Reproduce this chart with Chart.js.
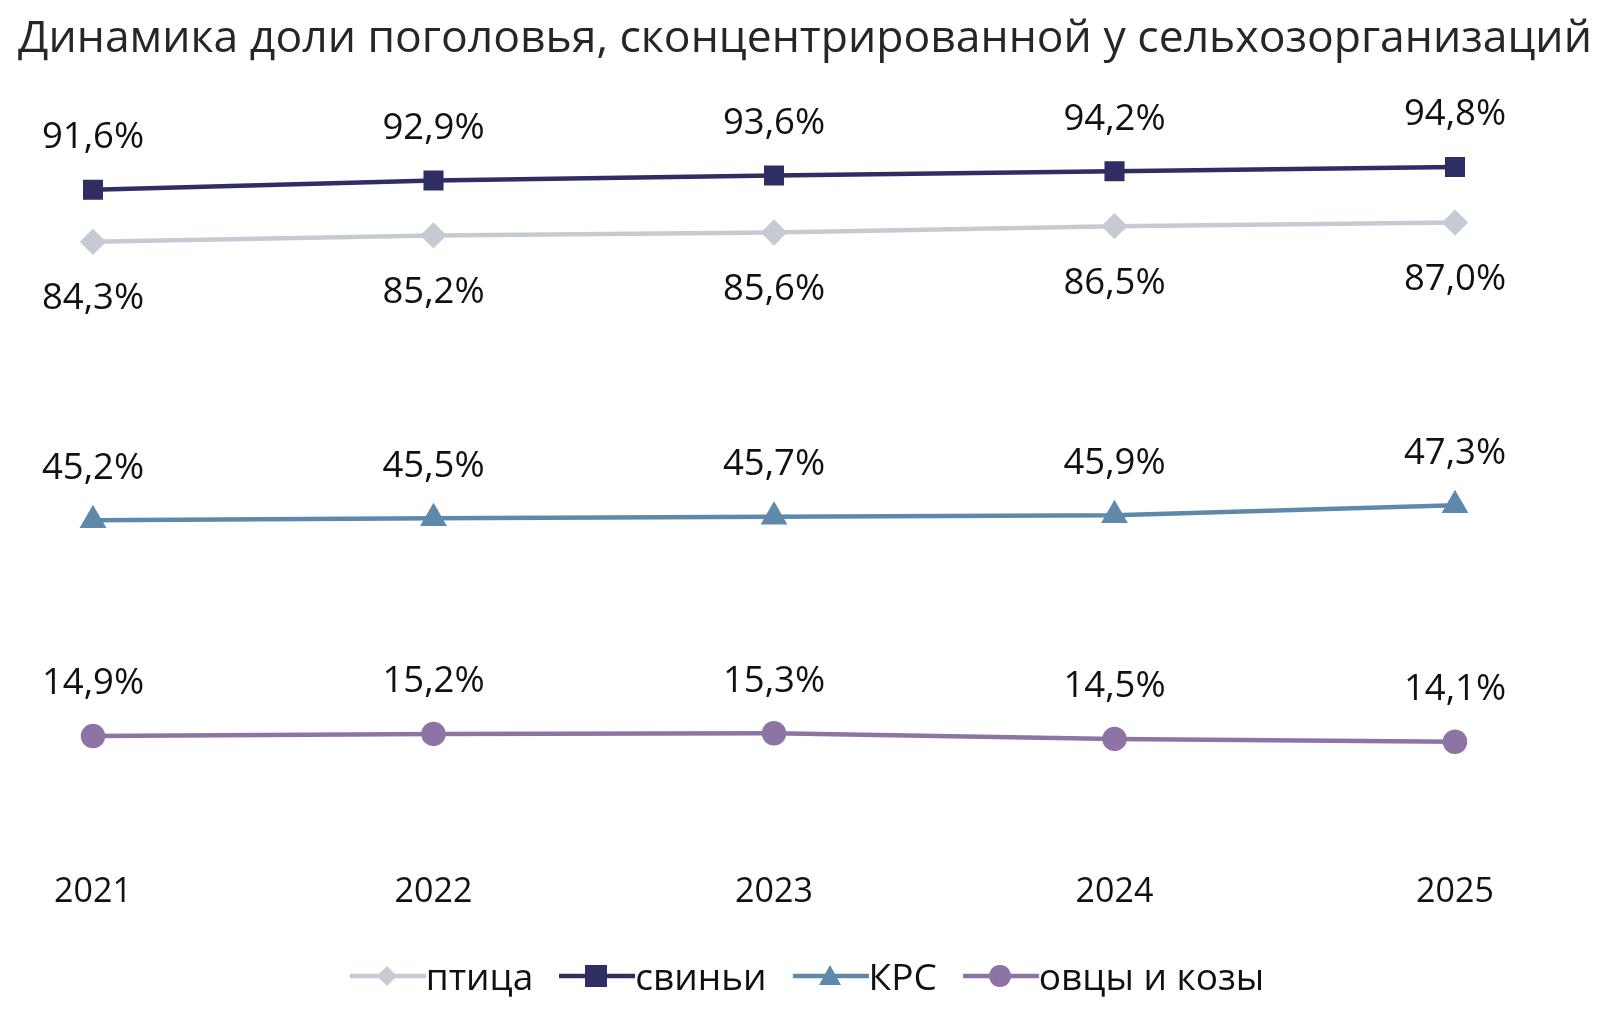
<!DOCTYPE html>
<html><head><meta charset="utf-8">
<script src="https://cdn.jsdelivr.net/npm/chart.js@4"></script>
<style>
body{margin:0;background:#fff;font-family:"Open Sans",sans-serif;}
#wrap{position:relative;width:1614px;height:1035px;}
#title{position:absolute;left:18px;top:4px;font-size:44.5px;color:#262626;white-space:nowrap;}
#legend{position:absolute;left:0;width:1614px;top:950px;display:flex;justify-content:center;gap:26px;font-size:37px;color:#111;}
#legend span{display:flex;align-items:center;}
</style></head><body>
<div id="wrap">
<canvas id="c" width="1614" height="1035"></canvas>
<div id="title">Динамика доли поголовья, сконцентрированной у сельхозорганизаций</div>
<div id="legend"></div>
</div>
<script>
const years = ["2021","2022","2023","2024","2025"];
const ptica = [84.3,85.2,85.6,86.5,87.0];
const sviny = [91.6,92.9,93.6,94.2,94.8];
const krs = [45.2,45.5,45.7,45.9,47.3];
const ovcy = [14.9,15.2,15.3,14.5,14.1];
const names = ["птица","свиньи","КРС","овцы и козы"];
const colors = ["#c6cad2","#2f2e63","#5f89aa","#8e74a4"];
const styles = ["rectRot","rect","triangle","circle"];
const radii = [10,11,11,10];
const below = [true,false,false,false];
const series = [ptica,sviny,krs,ovcy];

const labelPlugin = {id:'lbl',afterDatasetsDraw(chart){
  const ctx=chart.ctx;ctx.save();ctx.font='36.5px "Open Sans"';ctx.fillStyle='#111';ctx.textAlign='center';ctx.textBaseline='middle';
  chart.data.datasets.forEach((ds,i)=>{chart.getDatasetMeta(i).data.forEach((p,j)=>{
    const t=ds.data[j].toFixed(1).replace('.',',')+'%';
    ctx.fillText(t,p.x,p.y+(below[i]?57:-52));});});
  ctx.restore();}};

new Chart(document.getElementById('c'),{type:'line',
 data:{labels:years,datasets:series.map((d,i)=>({label:names[i],data:d,borderColor:colors[i],backgroundColor:colors[i],
   borderWidth:4.5,pointStyle:styles[i],pointRadius:radii[i],pointHoverRadius:radii[i],tension:0}))},
 options:{responsive:false,animation:false,events:[],
  layout:{padding:{left:93,right:159,top:130,bottom:100}},
  plugins:{legend:{display:false},title:{display:false},tooltip:{enabled:false}},
  scales:{y:{display:false,min:0,max:100},
    x:{offset:false,grid:{display:false},border:{display:false},
      ticks:{padding:22,color:'#111',font:{size:34,family:'"Open Sans"'}}}}},
 plugins:[labelPlugin]});

const lg=document.getElementById('legend');
const shape={rectRot:'<polygon points="37,6 47,16 37,26 27,16"/>',rect:'<rect x="26" y="5" width="22" height="22"/>',
 triangle:'<polygon points="37,5 48,25 26,25"/>',circle:'<circle cx="37" cy="16" r="11"/>'};
names.forEach((n,i)=>{const s=document.createElement('span');
 s.innerHTML='<svg width="76" height="32"><line x1="0" y1="16" x2="76" y2="16" stroke="'+colors[i]+'" stroke-width="4.5"/><g fill="'+colors[i]+'">'+shape[styles[i]]+'</g></svg>'+n;
 lg.appendChild(s);});
</script></body></html>
